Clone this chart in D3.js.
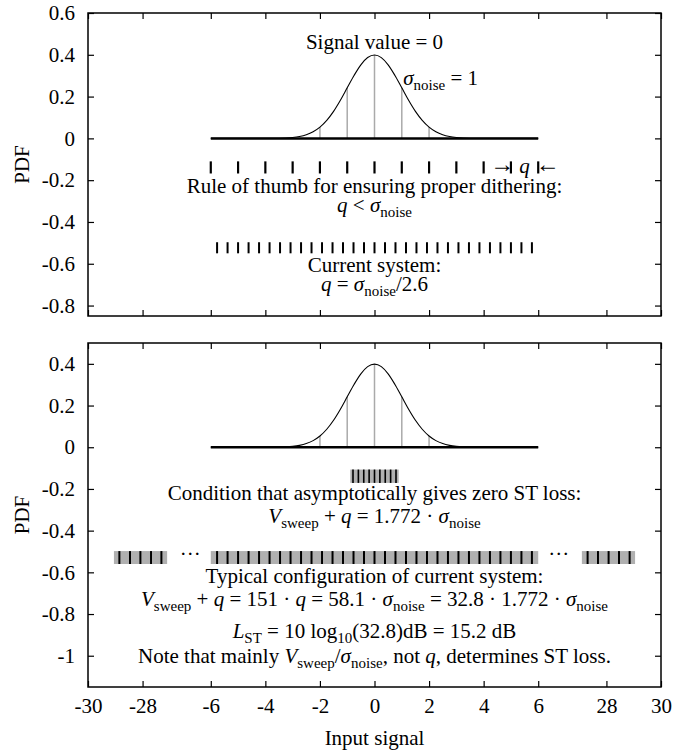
<!DOCTYPE html>
<html>
<head>
<meta charset="UTF-8">
<title>Dithering PDF</title>
<script src="https://cdn.jsdelivr.net/npm/d3@7"></script>
<style>
  body { margin: 0; background: #fff; }
  svg { display: block; font-family: "Liberation Serif", "DejaVu Serif", serif; }
</style>
</head>
<body>
<script>
// tick labels
var xTicks = [-30, -28, -6, -4, -2, 0, 2, 4, 6, 28, 30];
var yTicksTop = [0.6, 0.4, 0.2, 0, -0.2, -0.4, -0.6, -0.8];
var yTicksBottom = [0.4, 0.2, 0, -0.2, -0.4, -0.6, -0.8, -1];

// noise pdf (sigma = 1)
var gaussX = [-6, -4, -3.5, -3.25, -3, -2.75, -2.5, -2.25, -2, -1.75, -1.5, -1.25, -1, -0.75, -0.5, -0.25, 0,
              0.25, 0.5, 0.75, 1, 1.25, 1.5, 1.75, 2, 2.25, 2.5, 2.75, 3, 3.25, 3.5, 4, 6];
var gaussY = [0, 0.0001, 0.0009, 0.002, 0.0044, 0.0091, 0.0175, 0.0317, 0.054, 0.0863, 0.1295, 0.1826, 0.242, 0.3011, 0.3521, 0.3867, 0.3989,
              0.3867, 0.3521, 0.3011, 0.242, 0.1826, 0.1295, 0.0863, 0.054, 0.0317, 0.0175, 0.0091, 0.0044, 0.002, 0.0009, 0.0001, 0];
var stemX = [-2, -1, 0, 1, 2];
var stemY = [0.054, 0.242, 0.3989, 0.242, 0.054];

// quantization levels
var levelsUnit = [-6, -5, -4, -3, -2, -1, 0, 1, 2, 3, 4, 5, 6];
var levelsCurrent = [-5.769, -5.385, -5.0, -4.615, -4.231, -3.846, -3.462, -3.077, -2.692, -2.308, -1.923, -1.538, -1.154, -0.769, -0.385, 0,
                     0.385, 0.769, 1.154, 1.538, 1.923, 2.308, 2.692, 3.077, 3.462, 3.846, 4.231, 4.615, 5.0, 5.385, 5.769];
var levelsOuter = [-28.85, -28.46, -28.08, -27.69, -27.31, 27.31, 27.69, 28.08, 28.46, 28.85];
var levelsZero = [-0.788, -0.591, -0.394, -0.197, 0, 0.197, 0.394, 0.591, 0.788];
var barZero = [[-0.886, 0.886]];
var barTypical = [[-29.05, -27.1], [-6, 6], [27.1, 29.05]];
var dotsX = [-26.25, 26.25];

var W = 697, H = 754;
var L = 88, R = 661;
var FS = 21, SFS = 15;

// broken x axis: outer parts shifted in by 19.5
function disp(v) { return v < -6.5 ? v + 19.5 : (v > 6.5 ? v - 19.5 : v); }
var xs = d3.scaleLinear().domain([-10.5, 10.5]).range([L, R]);
function X(v) { return xs(disp(v)); }

var svg = d3.select("body").append("svg").attr("width", W).attr("height", H);

// rich text: parts = [text, style] ; "i" italic, "s" subscript
function rich(g, x, y, parts, anchor, size) {
  var t = g.append("text").attr("x", x).attr("y", y)
    .attr("text-anchor", anchor || "middle").attr("font-size", size || FS);
  var down = false;
  parts.forEach(function (p) {
    var s = t.append("tspan").text(p[0]);
    var sub = p[1] && p[1].indexOf("s") >= 0;
    if (p[1] && p[1].indexOf("i") >= 0) s.attr("font-style", "italic");
    if (sub && !down) { s.attr("dy", 5).attr("font-size", SFS); down = true; }
    else if (sub) { s.attr("font-size", SFS); }
    else if (down) { s.attr("dy", -5); down = false; }
  });
  return t;
}
var SIG = [["σ", "i"], ["noise", "s"]];
var VSW = [["V", "i"], ["sweep", "s"]];

function panel(top, bottom, yDom, yTicks) {
  var g = svg.append("g");
  var ys = d3.scaleLinear().domain(yDom).range([bottom, top]);

  g.append("g").attr("transform", "translate(0," + bottom + ")")
    .call(d3.axisBottom(xs).tickValues(xTicks.map(disp)).tickSizeInner(-6).tickSizeOuter(0).tickPadding(11)
      .tickFormat(function (d, i) { return bottom > 500 ? String(xTicks[i]) : ""; }));
  g.append("g").attr("transform", "translate(0," + top + ")")
    .call(d3.axisTop(xs).tickValues(xTicks.map(disp)).tickSizeInner(-6).tickSizeOuter(0).tickFormat(""));
  g.append("g").attr("transform", "translate(" + L + ",0)")
    .call(d3.axisLeft(ys).tickValues(yTicks).tickSizeInner(-6).tickSizeOuter(0).tickPadding(13)
      .tickFormat(function (d) { return String(d); }));
  g.append("g").attr("transform", "translate(" + R + ",0)")
    .call(d3.axisRight(ys).tickValues(yTicks).tickSizeInner(-6).tickSizeOuter(0).tickFormat(""));
  g.selectAll(".domain").remove();
  g.selectAll("g").attr("font-family", null).attr("font-size", null);
  g.selectAll(".tick line").attr("stroke", "#000").attr("stroke-width", 1.2);
  g.selectAll(".tick text").attr("font-size", FS).attr("fill", "#000");

  g.append("rect").attr("x", L).attr("y", top).attr("width", R - L).attr("height", bottom - top)
    .attr("fill", "none").attr("stroke", "#000").attr("stroke-width", 1.5);

  svg.append("text").attr("font-size", FS)
    .attr("transform", "translate(29," + ((top + bottom) / 2) + ") rotate(-90)")
    .attr("text-anchor", "middle").text("PDF");

  // gaussian
  g.selectAll(".stem").data(stemX).enter().append("line")
    .attr("x1", function (d) { return X(d); }).attr("x2", function (d) { return X(d); })
    .attr("y1", ys(0)).attr("y2", function (d, i) { return ys(stemY[i]); })
    .attr("stroke", "#aaa").attr("stroke-width", 1.5);
  g.append("path").datum(gaussX)
    .attr("d", d3.line().x(function (d) { return X(d); }).y(function (d, i) { return ys(gaussY[i]); })
      .curve(d3.curveMonotoneX))
    .attr("fill", "none").attr("stroke", "#000").attr("stroke-width", 1.1);
  g.append("line").attr("x1", X(-6)).attr("x2", X(6)).attr("y1", ys(0)).attr("y2", ys(0))
    .attr("stroke", "#000").attr("stroke-width", 2.5);

  return { g: g, ys: ys };
}

function levels(g, ys, data, y0, y1, w) {
  g.selectAll(null).data(data).enter().append("line")
    .attr("x1", function (d) { return X(d); }).attr("x2", function (d) { return X(d); })
    .attr("y1", ys(y0)).attr("y2", ys(y1))
    .attr("stroke", "#000").attr("stroke-width", w);
}
function bars(g, ys, data, y0, y1) {
  g.selectAll(null).data(data).enter().append("rect")
    .attr("x", function (d) { return X(d[0]); })
    .attr("width", function (d) { return X(d[1]) - X(d[0]); })
    .attr("y", ys(y0)).attr("height", ys(y1) - ys(y0))
    .attr("fill", "#b0b0b0");
}

// ---- top panel
var p1 = panel(13, 316, [-0.85, 0.6], yTicksTop);
var g1 = p1.g, y1 = p1.ys;
rich(g1, X(0), y1(0.43), [["Signal value = 0"]]);
rich(g1, X(1.05), y1(0.255), SIG.concat([[" = 1"]]), "start");
levels(g1, y1, levelsUnit, -0.11, -0.168, 2.2);
rich(g1, X(4.68), y1(-0.162), [["→"]], "middle", 24);
rich(g1, X(5.5), y1(-0.165), [["q", "i"]]);
rich(g1, X(6.35), y1(-0.162), [["←"]], "middle", 24);
rich(g1, X(0), y1(-0.262), [["Rule of thumb for ensuring proper dithering:"]]);
rich(g1, X(0), y1(-0.35), [["q", "i"], [" < "]].concat(SIG));
levels(g1, y1, levelsCurrent, -0.497, -0.55, 2);
rich(g1, X(0), y1(-0.64), [["Current system:"]]);
rich(g1, X(0), y1(-0.73), [["q", "i"], [" = "]].concat(SIG).concat([["/2.6"]]));

// ---- bottom panel
var p2 = panel(343, 687, [-1.15, 0.5], yTicksBottom);
var g2 = p2.g, y2 = p2.ys;
bars(g2, y2, barZero, -0.107, -0.171);
levels(g2, y2, levelsZero, -0.107, -0.171, 1.6);
rich(g2, X(0), y2(-0.254), [["Condition that asymptotically gives zero ST loss:"]]);
rich(g2, X(0), y2(-0.364), VSW.concat([[" + "], ["q", "i"], [" = 1.772 · "]]).concat(SIG));
bars(g2, y2, barTypical, -0.498, -0.56);
levels(g2, y2, levelsCurrent.concat(levelsOuter), -0.498, -0.56, 2);
g2.selectAll(null).data(dotsX).enter().append("text")
  .attr("x", function (d) { return X(d); }).attr("y", y2(-0.545))
  .attr("text-anchor", "middle").attr("font-size", FS).text("···");
rich(g2, X(0), y2(-0.65), [["Typical configuration of current system:"]]);
rich(g2, X(0), y2(-0.76), VSW.concat([[" + "], ["q", "i"], [" = 151 · "], ["q", "i"], [" = 58.1 · "]])
  .concat(SIG).concat([[" = 32.8 · 1.772 · "]]).concat(SIG));
rich(g2, X(0), y2(-0.914), [["L", "i"], ["ST", "s"], [" = 10 log"], ["10", "s"], ["(32.8)dB = 15.2 dB"]]);
rich(g2, X(0), y2(-1.033), [["Note that mainly "]].concat(VSW).concat([["/"]]).concat(SIG)
  .concat([[", not "], ["q", "i"], [", determines ST loss."]]));

svg.append("text").attr("x", X(0)).attr("y", 745).attr("text-anchor", "middle")
  .attr("font-size", FS).text("Input signal");
</script>
</body>
</html>
